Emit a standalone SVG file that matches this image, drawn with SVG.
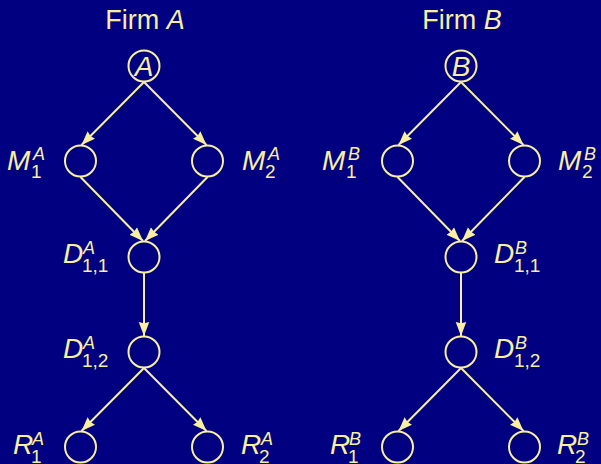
<svg xmlns="http://www.w3.org/2000/svg" width="601" height="464" viewBox="0 0 601 464">
<style>
.n{fill:none;stroke:#F8F0A0;stroke-width:2}
.e{fill:none;stroke:#F8F0A0;stroke-width:2;marker-end:url(#ah)}
text{font-family:"Liberation Sans","DejaVu Sans",sans-serif;fill:#F8F0A0}
.big{font-size:28px;font-style:italic}
.sup{font-size:18px;font-style:italic}
.sub{font-size:19px}
.title{font-size:27px;text-anchor:middle}
</style>
<defs>
<marker id="ah" markerUnits="userSpaceOnUse" markerWidth="16" markerHeight="12" viewBox="0 0 16 12" refX="14" refY="6" orient="auto">
<path d="M0,0.7 L14,6 L0,11.3 L1.2,6 z" fill="#F8F0A0"/>
</marker>
</defs>
<rect width="601" height="464" fill="#000080"/>
<text class="title" x="145" y="29">Firm <tspan font-style="italic">A</tspan></text>
<text class="title" x="462" y="29">Firm <tspan font-style="italic">B</tspan></text>
<g id="connectors">
<path class="e" d="M144,82 L81.5,145"/>
<path class="e" d="M144,82 L206.5,145"/>
<path class="e" d="M80.5,177 L143,241"/>
<path class="e" d="M207.5,177 L145,241"/>
<path class="e" d="M144,273 L144,336"/>
<path class="e" d="M144,368 L81.5,431"/>
<path class="e" d="M144,368 L206.5,431"/>
<path class="e" d="M461,82 L398.5,145"/>
<path class="e" d="M461,82 L523.5,145"/>
<path class="e" d="M397.5,177 L460,241"/>
<path class="e" d="M524.5,177 L462,241"/>
<path class="e" d="M461,273 L461,336"/>
<path class="e" d="M461,368 L398.5,431"/>
<path class="e" d="M461,368 L523.5,431"/>
</g>
<g id="A"><circle class="n" cx="144" cy="66" r="15.5"/><text class="big" x="144" y="75.5" text-anchor="middle">A</text></g>
<g id="M1A"><circle class="n" cx="80.5" cy="161" r="15.5"/><text class="big" x="7" y="170">M</text><text class="sup" x="33" y="160">A</text><text class="sub" x="31" y="178">1</text></g>
<g id="M2A"><circle class="n" cx="207.5" cy="161" r="15.5"/><text class="big" x="242" y="170">M</text><text class="sup" x="268" y="160">A</text><text class="sub" x="265" y="178">2</text></g>
<g id="D11A"><circle class="n" cx="144" cy="257" r="15.5"/><text class="big" x="63" y="263">D</text><text class="sup" x="83" y="253.5">A</text><text class="sub" x="82" y="272">1,1</text></g>
<g id="D12A"><circle class="n" cx="144" cy="352" r="15.5"/><text class="big" x="63" y="358">D</text><text class="sup" x="83" y="348.5">A</text><text class="sub" x="82" y="367">1,2</text></g>
<g id="R1A"><circle class="n" cx="80.5" cy="447" r="15.5"/><text class="big" x="13" y="454">R</text><text class="sup" x="32" y="444.5">A</text><text class="sub" x="31" y="462.5">1</text></g>
<g id="R2A"><circle class="n" cx="207.5" cy="447" r="15.5"/><text class="big" x="241" y="454">R</text><text class="sup" x="261" y="444.5">A</text><text class="sub" x="259" y="462.5">2</text></g>
<g id="B"><circle class="n" cx="461" cy="66" r="15.5"/><text class="big" x="461" y="75.5" text-anchor="middle">B</text></g>
<g id="M1B"><circle class="n" cx="397.5" cy="161" r="15.5"/><text class="big" x="322" y="170">M</text><text class="sup" x="348" y="160">B</text><text class="sub" x="346" y="178">1</text></g>
<g id="M2B"><circle class="n" cx="524.5" cy="161" r="15.5"/><text class="big" x="558" y="170">M</text><text class="sup" x="584" y="160">B</text><text class="sub" x="582" y="178">2</text></g>
<g id="D11B"><circle class="n" cx="461" cy="257" r="15.5"/><text class="big" x="494" y="263">D</text><text class="sup" x="515" y="253.5">B</text><text class="sub" x="514" y="272">1,1</text></g>
<g id="D12B"><circle class="n" cx="461" cy="352" r="15.5"/><text class="big" x="494" y="358">D</text><text class="sup" x="515" y="348.5">B</text><text class="sub" x="514" y="367">1,2</text></g>
<g id="R1B"><circle class="n" cx="397.5" cy="447" r="15.5"/><text class="big" x="330" y="454">R</text><text class="sup" x="349" y="444.5">B</text><text class="sub" x="348" y="462.5">1</text></g>
<g id="R2B"><circle class="n" cx="524.5" cy="447" r="15.5"/><text class="big" x="557" y="454">R</text><text class="sup" x="577" y="444.5">B</text><text class="sub" x="575" y="462.5">2</text></g>
</svg>
